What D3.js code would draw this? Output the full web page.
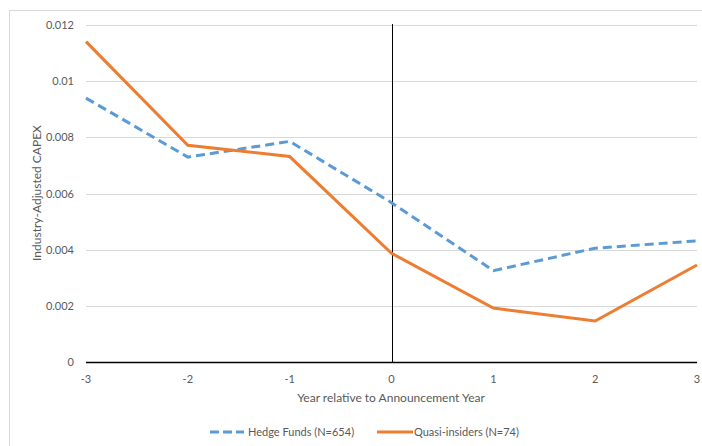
<!DOCTYPE html>
<html><head><meta charset="utf-8">
<script src="https://cdn.jsdelivr.net/npm/d3@7"></script>
<style>body{margin:0;background:#fff}svg{display:block}text{font-family:Lato,"Open Sans",sans-serif}</style>
</head><body><svg id="c" width="702" height="446"></svg>
<script>
const years = [-3,-2,-1,0,1,2,3];
const hedgeFunds = [0.0094,0.0073,0.00786,0.00568,0.00326,0.00406,0.00432];
const quasiInsiders = [0.01141,0.00772,0.00732,0.00388,0.00193,0.00147,0.00346];
const yTicks = [0,0.002,0.004,0.006,0.008,0.01,0.012];
const yTickLabels = ["0","0.002","0.004","0.006","0.008","0.01","0.012"];
const seriesNames = ["Hedge Funds (N=654)","Quasi-insiders (N=74)"];

const svg = d3.select("#c");
const x = d3.scaleLinear().domain([-3,3]).range([86,697]);
const y = d3.scaleLinear().domain([0,0.012]).range([362.3,25]);

svg.append("rect").attr("x",9.5).attr("y",10.5).attr("width",720).attr("height",460)
  .attr("fill","none").attr("stroke","#d9d9d9");

// gridlines
svg.append("g").selectAll("line").data(yTicks.slice(1)).join("line")
  .attr("x1",x(-3)).attr("x2",x(3)).attr("y1",d=>Math.round(y(d))+0.5).attr("y2",d=>Math.round(y(d))+0.5)
  .attr("stroke","#d9d9d9").attr("stroke-width",1);

// y tick labels
svg.append("g").selectAll("text").data(yTicks).join("text")
  .attr("x",74).attr("y",d=>y(d)+4).attr("text-anchor","end")
  .attr("font-size",11).attr("fill","#595959").text((d,i)=>yTickLabels[i]);

// x axis
svg.append("line").attr("x1",x(-3)).attr("x2",x(3)).attr("y1",362.5).attr("y2",362.5)
  .attr("stroke","#000").attr("stroke-width",1.3);
svg.append("g").selectAll("text").data(years).join("text")
  .attr("x",d=>x(d)).attr("y",383).attr("text-anchor","middle")
  .attr("font-size",11).attr("fill","#595959").text(d=>d);

// vertical line at 0
svg.append("line").attr("x1",Math.round(x(0))+0.5).attr("x2",Math.round(x(0))+0.5)
  .attr("y1",y(0.012)-1).attr("y2",362).attr("stroke","#000").attr("stroke-width",1);

// titles
svg.append("text").attr("x",391).attr("y",402).attr("text-anchor","middle")
  .attr("font-size",12).attr("fill","#595959").text("Year relative to Announcement Year");
svg.append("text").attr("transform","translate(41,193) rotate(-90)").attr("text-anchor","middle")
  .attr("font-size",12).attr("fill","#595959").text("Industry-Adjusted CAPEX");

const line = d3.line().x((d,i)=>x(years[i])).y(d=>y(d));
svg.append("path").datum(hedgeFunds).attr("d",line).attr("fill","none")
  .attr("stroke","#5B9BD5").attr("stroke-width",3).attr("stroke-dasharray","9,5");
svg.append("path").datum(quasiInsiders).attr("d",line).attr("fill","none")
  .attr("stroke","#ED7D31").attr("stroke-width",3).attr("stroke-linejoin","miter");

// legend
const lg = svg.append("g");
lg.append("line").attr("x1",210).attr("x2",244).attr("y1",432).attr("y2",432)
  .attr("stroke","#5B9BD5").attr("stroke-width",3).attr("stroke-dasharray","9,4");
lg.append("text").attr("x",248).attr("y",436).attr("font-size",11).attr("fill","#595959").text(seriesNames[0]);
lg.append("line").attr("x1",377).attr("x2",413).attr("y1",432).attr("y2",432)
  .attr("stroke","#ED7D31").attr("stroke-width",3);
lg.append("text").attr("x",414).attr("y",436).attr("font-size",11).attr("fill","#595959").text(seriesNames[1]);
</script></body></html>
